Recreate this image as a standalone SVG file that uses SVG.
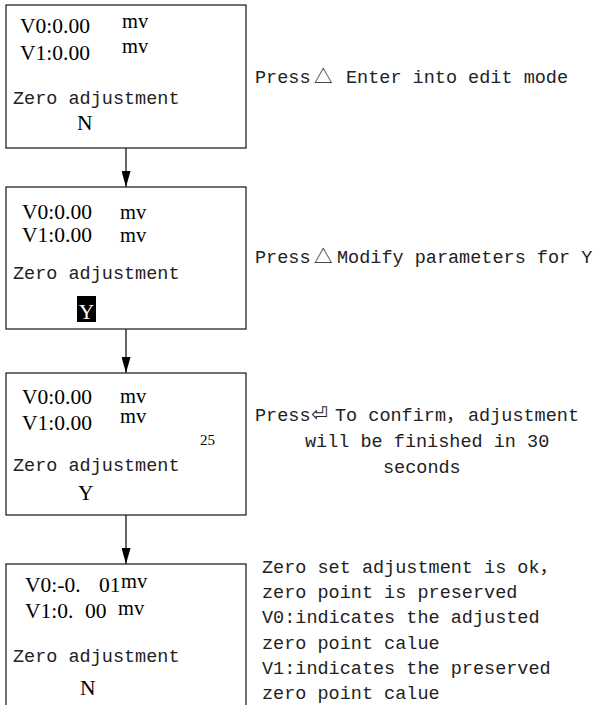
<svg xmlns="http://www.w3.org/2000/svg" width="595" height="705" viewBox="0 0 595 705">
<style>
.box{fill:#fff;stroke:#262626;stroke-width:1.3}
.v{font-family:"Liberation Serif","Times New Roman",serif;font-size:21.5px;fill:#000}
.mv{font-family:"Liberation Serif","Times New Roman",serif;font-size:20.5px;fill:#000}
.m{font-family:"Liberation Mono","Noto Sans CJK SC",monospace;font-size:18.5px;fill:#222}
.sym{font-family:"DejaVu Sans","Noto Sans CJK SC",sans-serif;font-size:20px;fill:#222}
.cn{font-family:"Noto Sans CJK SC",sans-serif;font-size:18.5px;fill:#222}
.conn{stroke:#000;stroke-width:1.2;fill:none}
</style>
<defs>
<marker id="ah" markerWidth="16" markerHeight="9" refX="16" refY="4.5" orient="auto" markerUnits="userSpaceOnUse" viewBox="0 0 16 9">
<path d="M0,0 L16,4.5 L0,9 Z" fill="#000"/>
</marker>
</defs>
<rect width="595" height="705" fill="#fff"/>
<g id="connectors">
<line class="conn" x1="126" y1="148" x2="126" y2="187" marker-end="url(#ah)"/>
<line class="conn" x1="126" y1="329" x2="126" y2="373" marker-end="url(#ah)"/>
<line class="conn" x1="126" y1="515" x2="126" y2="564" marker-end="url(#ah)"/>
</g>
<g id="node1">
<rect class="box" x="6" y="5" width="240" height="143"/>
<text class="v" x="20" y="33">V0:0.00</text>
<text class="mv" x="122" y="28">mv</text>
<text class="v" x="20" y="60">V1:0.00</text>
<text class="mv" x="122" y="53">mv</text>
<text class="m" x="13" y="104">Zero adjustment</text>
<text class="v" x="77" y="130">N</text>
</g>
<g id="node2">
<rect class="box" x="6" y="187" width="240" height="142"/>
<text class="v" x="22" y="219">V0:0.00</text>
<text class="mv" x="120" y="219">mv</text>
<text class="v" x="22" y="242">V1:0.00</text>
<text class="mv" x="120" y="242">mv</text>
<text class="m" x="13" y="279">Zero adjustment</text>
<rect x="77" y="296" width="19" height="26" fill="#000"/>
<text class="v" x="86.5" y="319" text-anchor="middle" style="fill:#fff">Y</text>
</g>
<g id="node3">
<rect class="box" x="6" y="373" width="240" height="142"/>
<text class="v" x="22" y="404">V0:0.00</text>
<text class="mv" x="120" y="403">mv</text>
<text class="v" x="22" y="430">V1:0.00</text>
<text class="mv" x="120" y="423">mv</text>
<text class="v" x="200" y="445" style="font-size:15px">25</text>
<text class="m" x="13" y="471">Zero adjustment</text>
<text class="v" x="78" y="500">Y</text>
</g>
<g id="node4">
<rect class="box" x="6" y="564" width="240" height="143"/>
<text class="v" x="25" y="592">V0:-0.<tspan x="99">01</tspan></text>
<text class="mv" x="121" y="588">mv</text>
<text class="v" x="25" y="618">V1:0.<tspan x="85">00</tspan></text>
<text class="mv" x="118" y="615">mv</text>
<text class="m" x="13" y="662">Zero adjustment</text>
<text class="v" x="80" y="695">N</text>
</g>
<g id="label1">
<text class="m" x="255" y="83">Press<tspan class="cn" x="314">△</tspan><tspan x="346">Enter into edit mode</tspan></text>
</g>
<g id="label2">
<text class="m" x="255" y="263">Press<tspan class="cn" x="314">△</tspan><tspan x="337">Modify parameters for Y</tspan></text>
</g>
<g id="label3">
<text class="m" x="255" y="421">Press<tspan class="sym" x="311">⏎</tspan><tspan x="335">To confirm</tspan><tspan class="cn" x="446">，</tspan><tspan x="468">adjustment</tspan></text>
<text class="m" x="305" y="447">will be finished in 30</text>
<text class="m" x="383" y="473">seconds</text>
</g>
<g id="label4">
<text class="m" x="262" y="573">Zero set adjustment is ok<tspan class="cn">，</tspan></text>
<text class="m" x="262" y="598">zero point is preserved</text>
<text class="m" x="262" y="623">V0:indicates the adjusted</text>
<text class="m" x="262" y="649">zero point calue</text>
<text class="m" x="262" y="674">V1:indicates the preserved</text>
<text class="m" x="262" y="699">zero point calue</text>
</g>
</svg>
